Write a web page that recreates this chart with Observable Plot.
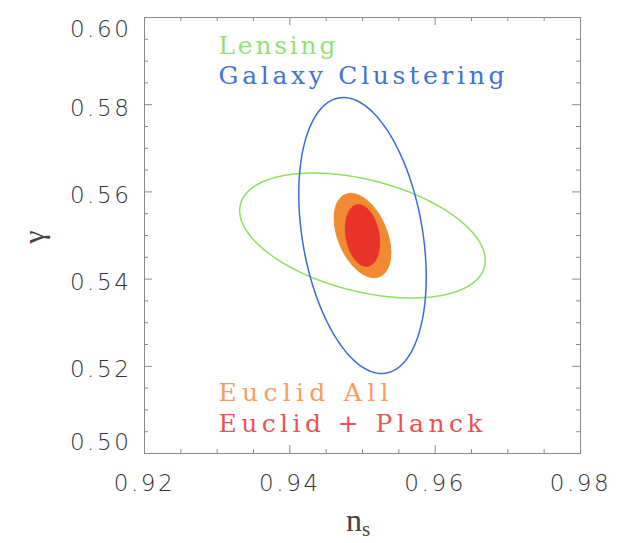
<!DOCTYPE html>
<html>
<head>
<meta charset="utf-8">
<script src="https://cdn.jsdelivr.net/npm/d3@7"></script>
<script src="https://cdn.jsdelivr.net/npm/@observablehq/plot@0.6"></script>
<style>
  html, body { margin: 0; padding: 0; background: #fff; }
  svg { display: block; }
  .chart g[aria-label="x-axis tick label"] text,
  .chart g[aria-label="y-axis tick label"] text { letter-spacing: 2.6px; font-weight: 200; }
</style>
</head>
<body>
<script>
// ---- data ----
const probes = ["Lensing", "Galaxy Clustering", "Euclid All", "Euclid + Planck"];
const centerNs = [0.95, 0.95, 0.95, 0.95];
const centerGamma = [0.55, 0.55, 0.55, 0.55];
const extentNs = [0.0169, 0.00877, 0.0039, 0.00236];     // half-extent of contour in n_s
const extentGamma = [0.01433, 0.03165, 0.00967, 0.00707]; // half-extent of contour in gamma
const correlation = [-0.40, -0.30, -0.41, -0.23];
const lineColors = ["#8fe060", "#3b6cd6", "#f28a32", "#e8332b"];
const textColors = ["#95e27a", "#4272d8", "#f2a062", "#e85454"];
const legendWidths = [117, 286, 170, 264];

const nsTicks = [0.92, 0.94, 0.96, 0.98];
const nsMinorTicks = [0.925, 0.93, 0.935, 0.945, 0.95, 0.955, 0.965, 0.97, 0.975];
const gammaTicks = [0.50, 0.52, 0.54, 0.56, 0.58, 0.60];
const gammaMinorTicks = [0.505, 0.51, 0.515, 0.525, 0.53, 0.535, 0.545, 0.55, 0.555,
                         0.565, 0.57, 0.575, 0.585, 0.59, 0.595];

// contour ellipse from (center, half-extents, correlation)
function contour(i) {
  const a = extentNs[i], b = extentGamma[i], r = correlation[i];
  const s = Math.sqrt(1 - r * r);
  return d3.range(0, 181).map(k => {
    const t = (k / 180) * 2 * Math.PI;
    return {ns: centerNs[i] + a * Math.cos(t),
            gamma: centerGamma[i] + b * (r * Math.cos(t) + s * Math.sin(t))};
  });
}

const W = 620, H = 543, mL = 144, mR = 40, mT = 17, mB = 90;
const frameH = H - mT - mB, frameW = W - mL - mR;
const major = 8, minor = 4;
const tickColor = "#8a8a8a";
const labelFont = {fontFamily: "DejaVu Sans", fontSize: 23, fill: "#333"};
const legendFont = {fontFamily: "DejaVu Serif", fontSize: 25, lineAnchor: "middle", textAnchor: "start", frameAnchor: "top-left"};

const marks = [
  Plot.line(contour(2), {x: "ns", y: "gamma", fill: lineColors[2], stroke: lineColors[2], strokeWidth: 1}),
  Plot.line(contour(3), {x: "ns", y: "gamma", fill: lineColors[3], stroke: lineColors[3], strokeWidth: 1}),
  Plot.line(contour(0), {x: "ns", y: "gamma", stroke: lineColors[0], strokeWidth: 1.5}),
  Plot.line(contour(1), {x: "ns", y: "gamma", stroke: lineColors[1], strokeWidth: 1.5}),
  Plot.frame({stroke: tickColor}),
  // inward ticks on all four sides
  Plot.tickX(nsTicks, {x: d => d, insetTop: frameH - major, stroke: tickColor}),
  Plot.tickX(nsTicks, {x: d => d, insetBottom: frameH - major, stroke: tickColor}),
  Plot.tickX(nsMinorTicks, {x: d => d, insetTop: frameH - minor, stroke: tickColor}),
  Plot.tickX(nsMinorTicks, {x: d => d, insetBottom: frameH - minor, stroke: tickColor}),
  Plot.tickY(gammaTicks, {y: d => d, insetRight: frameW - major, stroke: tickColor}),
  Plot.tickY(gammaTicks, {y: d => d, insetLeft: frameW - major, stroke: tickColor}),
  Plot.tickY(gammaMinorTicks, {y: d => d, insetRight: frameW - minor, stroke: tickColor}),
  Plot.tickY(gammaMinorTicks, {y: d => d, insetLeft: frameW - minor, stroke: tickColor}),
  // tick labels
  Plot.axisX(nsTicks, {tickSize: 0, tickPadding: 21, tickFormat: d3.format(".2f"), ...labelFont}),
  Plot.axisY(gammaTicks.slice(1, -1), {tickSize: 0, tickPadding: 13, dy: 3.5, tickFormat: d3.format(".2f"), ...labelFont}),
  Plot.axisY(gammaTicks.slice(-1), {tickSize: 0, tickPadding: 13, dy: 12, tickFormat: d3.format(".2f"), ...labelFont}),
  Plot.axisY(gammaTicks.slice(0, 1), {tickSize: 0, tickPadding: 13, dy: -11, tickFormat: d3.format(".2f"), ...labelFont}),
  // legend labels
  Plot.text([probes[0]], {dx: 74, dy: 28, fill: textColors[0], ...legendFont}),
  Plot.text([probes[1]], {dx: 74, dy: 58, fill: textColors[1], ...legendFont}),
  Plot.text([probes[2]], {dx: 74, dy: 375, fill: textColors[2], ...legendFont}),
  Plot.text([probes[3]], {dx: 74, dy: 406, fill: textColors[3], ...legendFont})
];

const chart = Plot.plot({
  width: W, height: H,
  marginLeft: mL, marginRight: mR, marginTop: mT, marginBottom: mB,
  className: "chart",
  style: {background: "#fff", overflow: "visible"},
  x: {domain: [0.92, 0.98], label: null},
  y: {domain: [0.50, 0.60], label: null},
  marks
});

const svg = d3.select(chart);
// stretch legend labels to the reference's wide letter spacing
svg.selectAll('g[aria-label="text"] text').each(function () {
  const i = probes.indexOf(this.textContent);
  if (i >= 0) d3.select(this).attr("textLength", legendWidths[i]).attr("lengthAdjust", "spacing");
});

// axis titles
const xt = svg.append("text")
  .attr("x", mL + frameW / 2 - 4).attr("y", 531)
  .attr("text-anchor", "middle")
  .attr("font-family", "Liberation Serif").attr("font-size", 32).attr("fill", "#444");
xt.append("tspan").text("n");
xt.append("tspan").attr("font-size", 21).attr("dy", 5).text("s");
svg.append("text")
  .attr("transform", `translate(44,${mT + frameH / 2 + 2}) rotate(-90)`)
  .attr("text-anchor", "middle")
  .attr("font-family", "Liberation Serif").attr("font-size", 30).attr("fill", "#444")
  .text("γ");

document.body.appendChild(chart);
</script>
</body>
</html>
